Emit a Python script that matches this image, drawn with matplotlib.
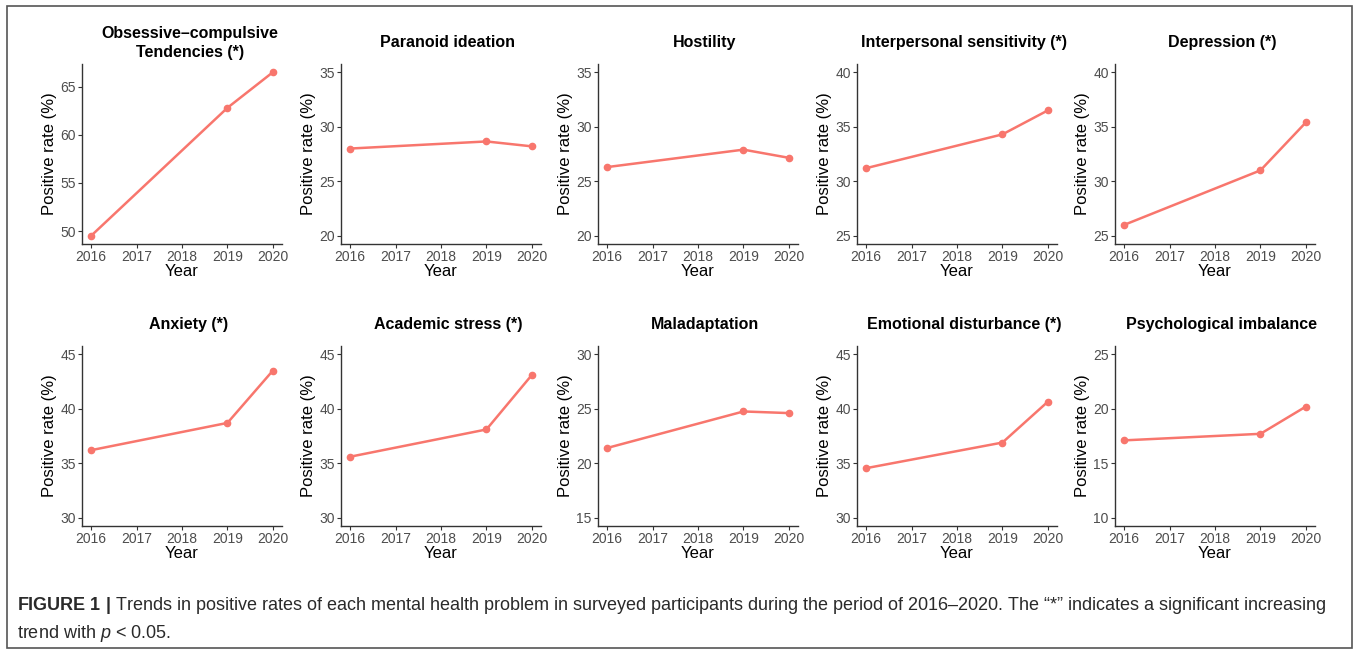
import matplotlib
matplotlib.use('Agg')
import matplotlib.pyplot as plt
from matplotlib.patches import Rectangle

plt.rcParams['font.family'] = ['Liberation Sans', 'DejaVu Sans']
plt.rcParams['mathtext.fontset'] = 'custom'
plt.rcParams['mathtext.rm'] = 'Liberation Sans'
plt.rcParams['mathtext.bf'] = 'Liberation Sans:bold'
plt.rcParams['mathtext.it'] = 'Liberation Sans:italic'

# data
years = [2016, 2019, 2020]
titles = ['Obsessive\u2013compulsive\nTendencies (*)', 'Paranoid ideation', 'Hostility',
          'Interpersonal sensitivity (*)', 'Depression (*)',
          'Anxiety (*)', 'Academic stress (*)', 'Maladaptation',
          'Emotional disturbance (*)', 'Psychological imbalance']
ocd = [49.5, 62.8, 66.5]
paranoid = [28.0, 28.65, 28.2]
hostility = [26.3, 27.9, 27.15]
interpersonal = [31.2, 34.3, 36.5]
depression = [26.0, 31.0, 35.4]
anxiety = [36.2, 38.7, 43.5]
academic = [35.6, 38.1, 43.1]
maladapt = [21.4, 24.75, 24.6]
emotional = [34.55, 36.9, 40.65]
imbalance = [17.1, 17.7, 20.2]
series = [ocd, paranoid, hostility, interpersonal, depression,
          anxiety, academic, maladapt, emotional, imbalance]
# y tick ranges (None = auto from data)
yranges = [None, (20, 35), (20, 35), (25, 40), (25, 40),
           (30, 45), (30, 45), (15, 30), (30, 45), (10, 25)]

W, H = 1357, 650
fig = plt.figure(figsize=(W / 100, H / 100), dpi=100)

lefts = [82, 341, 598, 857, 1115]
tops = [64, 346]
aw, ah = 200, 180

red = '#F8766D'
for i in range(10):
    r, c = divmod(i, 5)
    ax = fig.add_axes([lefts[c] / W, (H - tops[r] - ah) / H, aw / W, ah / H])
    ax.plot(years, series[i], color=red, lw=1.8, marker='o', ms=4.5)
    ax.set_xlim(2016 - 0.2, 2020 + 0.2)
    ax.set_xticks([2016, 2017, 2018, 2019, 2020])
    if yranges[i] is None:
        lo, hi = min(series[i]), max(series[i])
        ticks = [50, 55, 60, 65]
    else:
        lo, hi = yranges[i]
        ticks = list(range(lo, hi + 1, 5))
    pad = (hi - lo) * 0.05
    ax.set_ylim(lo - pad, hi + pad)
    ax.set_yticks(ticks)
    for s in ['top', 'right']:
        ax.spines[s].set_visible(False)
    for s in ['left', 'bottom']:
        ax.spines[s].set_color('#333333')
        ax.spines[s].set_linewidth(1.0)
    ax.tick_params(labelsize=10, labelcolor='#4D4D4D', color='#333333',
                   length=3, width=0.8, pad=1.5)
    ax.set_xlabel('Year', fontsize=12, labelpad=0)
    ax.set_ylabel('Positive rate (%)', fontsize=12, labelpad=2)
    if i == 0:
        ax.text(0.54, 1.023, titles[i], transform=ax.transAxes, ha='center',
                va='bottom', fontsize=11.5, fontweight='bold', linespacing=1.32)
    else:
        ax.text(0.535, 1.078, titles[i], transform=ax.transAxes, ha='center',
                va='bottom', fontsize=11.5, fontweight='bold')

# outer frame
fig.patches.append(Rectangle((7 / W, 2 / H), (W - 12) / W, (H - 8) / H,
                             transform=fig.transFigure, fill=False,
                             edgecolor='#555555', lw=1.2))

fig.text(17 / W, 1 - 605 / H,
         r'$\bf{FIGURE\ 1\ |}$ Trends in positive rates of each mental health problem in '
         'surveyed participants during the period of 2016\u20132020. The \u201c*\u201d '
         'indicates a significant increasing',
         fontsize=13, color='#2a2a2a', va='center')
fig.text(17 / W, 1 - 633 / H, r'trend with $\it{p}$ < 0.05.',
         fontsize=13, color='#2a2a2a', va='center')

fig.savefig('out.png', dpi=100)
